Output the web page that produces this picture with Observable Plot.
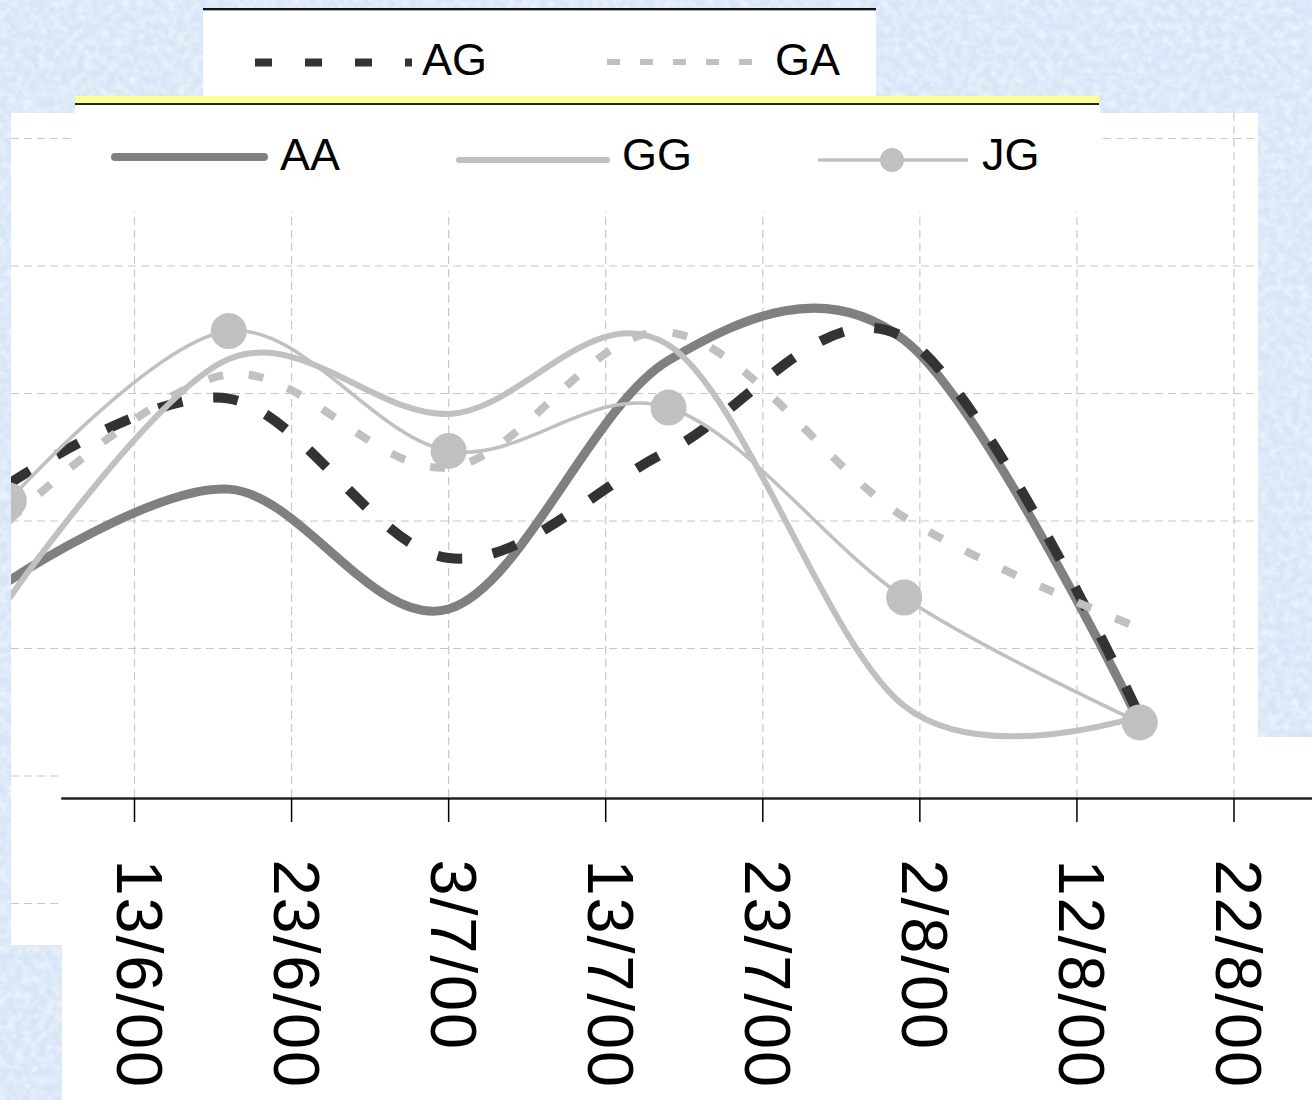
<!DOCTYPE html>
<html>
<head>
<meta charset="utf-8">
<script src="https://cdn.jsdelivr.net/npm/d3@7"></script>
<script src="https://cdn.jsdelivr.net/npm/@observablehq/plot@0.6"></script>
<style>
  html, body { margin: 0; padding: 0; }
  body { width: 1312px; height: 1100px; position: relative; overflow: hidden; }
  .bg { background-color: #d6e5f7; }
  .abs { position: absolute; }
  .white { background: #ffffff; }
  #chart { position: absolute; left: 0; top: 0; z-index: 1; color: #000; }
  .over { z-index: 2; }
  #legendSvg { position: absolute; left: 0; top: 0; z-index: 3; pointer-events: none; }
</style>
</head>
<body class="bg">
<!-- white chart panels -->
<div class="abs white" style="left:11px;top:113px;width:1247px;height:624px"></div>
<div class="abs white" style="left:11px;top:113px;width:51px;height:832px"></div>
<div class="abs white" style="left:62px;top:737px;width:1250px;height:363px"></div>
<div id="chart"></div>
<!-- overlays -->
<div class="abs over bg" id="leftMask" style="left:0;top:0;width:11px;height:1100px"></div>
<div class="abs over white" style="left:203px;top:8px;width:673px;height:88px;border-top:2px solid #111;box-sizing:border-box;box-shadow: inset 0 1px 0 #b0b0b0"></div>
<div class="abs over" style="left:75px;top:96px;width:1024px;height:7px;background:#ffff99"></div>
<div class="abs over" style="left:75px;top:103px;width:1024px;height:2px;background:#222"></div>
<div class="abs over white" style="left:75px;top:105px;width:1025px;height:106px"></div>
<svg id="legendSvg" width="1312" height="1100"></svg>

<script>
// ---------------- data ----------------
const dateStrings = ["2000-06-05", "2000-06-19", "2000-07-03", "2000-07-17", "2000-08-01", "2000-08-16"];
const AA = [25.3, 32.5, 23.1, 42.6, 44.2, 14.2];
const AG = [32.9, 39.6, 27.1, 35.5, 44.4, 14.7];
const GA = [30.0, 41.5, 34.2, 44.8, 30.3, 21.6];
const GG = [23.9, 42.7, 38.4, 43.8, 15.5, 14.7];
const JG = [31.6, 44.9, 35.5, 38.9, 24.0, 14.2];

const tickDateStrings = ["2000-06-13", "2000-06-23", "2000-07-03", "2000-07-13", "2000-07-23", "2000-08-02", "2000-08-12", "2000-08-22"];
const tickLabels = ["13/6/00", "23/6/00", "3/7/00", "13/7/00", "23/7/00", "2/8/00", "12/8/00", "22/8/00"];
const gridUpper = [20, 30, 40, 50, 60];
const gridLower = [0, 10];

// ---------------- background texture ----------------
const noise = `<svg xmlns='http://www.w3.org/2000/svg' width='1312' height='1100'><filter id='n' x='0' y='0' width='100%' height='100%'><feTurbulence type='fractalNoise' baseFrequency='0.13' numOctaves='3' seed='7'/><feColorMatrix type='matrix' values='0 0 0 0 1  0 0 0 0 1  0 0 0 0 1  1.1 0 0 0 -0.38'/></filter><filter id='m' x='0' y='0' width='100%' height='100%'><feTurbulence type='fractalNoise' baseFrequency='0.05' numOctaves='2' seed='19'/><feColorMatrix type='matrix' values='0 0 0 0 0.72  0 0 0 0 0.82  0 0 0 0 0.95  0.9 0 0 0 -0.42'/></filter><rect width='1312' height='1100' filter='url(#m)'/><rect width='1312' height='1100' filter='url(#n)'/></svg>`;
const noiseUrl = `url("data:image/svg+xml,${encodeURIComponent(noise)}")`;
document.querySelectorAll(".bg").forEach(el => { el.style.backgroundImage = noiseUrl; el.style.backgroundPosition = "0 0"; });

// ---------------- build table ----------------
const parse = s => new Date(s + "T00:00:00Z");
const dates = dateStrings.map(parse);
const tickDates = tickDateStrings.map(parse);
const labelMap = new Map(tickDates.map((d, i) => [+d, tickLabels[i]]));
const seriesList = [
  {name: "AA", values: AA},
  {name: "AG", values: AG},
  {name: "GA", values: GA},
  {name: "GG", values: GG},
  {name: "JG", values: JG}
];
const rows = {};
for (const s of seriesList) rows[s.name] = dates.map((d, i) => ({date: d, value: s.values[i], series: s.name}));

const xDomain = [parse("2000-06-13"), parse("2000-08-22")];
const xRange = [134, 1233.5];
const xs = d3.scaleUtc().domain(xDomain).range(xRange);
const xPanelL = xs.invert(11), xPanelR = xs.invert(1258), xStripR = xs.invert(62);

const font = "'Liberation Sans', Arial, Helvetica, sans-serif";
const gridStyle = {stroke: "#c8c8c8", strokeOpacity: 1, strokeWidth: 1.2, strokeDasharray: "8,5"};

const chart = Plot.plot({
  width: 1312,
  height: 1100,
  marginLeft: 62,
  marginRight: 0,
  marginTop: 113,
  marginBottom: 302,
  style: {background: "transparent", overflow: "visible", fontFamily: font, color: "#000", letterSpacing: "1.8px"},
  x: {type: "utc", domain: xDomain, range: xRange, axis: null},
  y: {domain: [0, 60], range: [903, 138], axis: null},
  marks: [
    Plot.gridX(tickDates, gridStyle),
    Plot.ruleY(gridUpper, {x1: () => xPanelL, x2: () => xPanelR, ...gridStyle}),
    Plot.ruleY(gridLower, {x1: () => xPanelL, x2: () => xStripR, ...gridStyle}),
    Plot.line(rows.AA, {x: "date", y: "value", curve: "cardinal", stroke: "#808080", strokeWidth: 9, strokeLinecap: "butt"}),
    Plot.line(rows.AG, {x: "date", y: "value", curve: "cardinal", stroke: "#333333", strokeWidth: 10, strokeDasharray: "25,31", strokeLinecap: "butt", strokeLinejoin: "miter"}),
    Plot.line(rows.GA, {x: "date", y: "value", curve: "cardinal", stroke: "#c0c0c0", strokeWidth: 8, strokeDasharray: "15,26", strokeLinecap: "butt"}),
    Plot.line(rows.GG, {x: "date", y: "value", curve: "cardinal", stroke: "#c0c0c0", strokeWidth: 6}),
    Plot.line(rows.JG, {x: "date", y: "value", curve: "cardinal", stroke: "#c0c0c0", strokeWidth: 3.5}),
    Plot.dot(rows.JG, {x: "date", y: "value", r: 18, fill: "#c0c0c0", stroke: null}),
    Plot.frame({anchor: "bottom", stroke: "#222", strokeWidth: 2.5}),
    // tick marks only
    Plot.axisX(tickDates, {
      anchor: "bottom",
      tickSize: 24,
      text: null,
      stroke: "#000",
      strokeWidth: 1.5,
      label: null
    }),
    // rotated tick labels only
    Plot.axisX(tickDates, {
      anchor: "bottom",
      tickFormat: d => labelMap.get(+d),
      tickRotate: 90,
      tickSize: 0,
      tickPadding: 60,
      fontSize: 65,
      fontFamily: font,
      fill: "#000",
      dx: 3,
      dy: 1,
      label: null
    })
  ]
});
document.getElementById("chart").appendChild(chart);

// ---------------- legend (swatches + text) ----------------
const legendItems = [
  {name: "AG", color: "#333333", width: 8, dash: "17,33", x1: 255, x2: 412, y: 62.5, tx: 422, ty: 75, cap: "butt"},
  {name: "GA", color: "#c0c0c0", width: 6, dash: "13,20", x1: 607, x2: 752, y: 62, tx: 775, ty: 75, cap: "butt"},
  {name: "AA", color: "#808080", width: 8, dash: null, x1: 115, x2: 264, y: 157, tx: 280, ty: 170, cap: "round"},
  {name: "GG", color: "#c0c0c0", width: 6, dash: null, x1: 459, x2: 607, y: 160, tx: 622, ty: 170, cap: "round"},
  {name: "JG", color: "#c0c0c0", width: 3.5, dash: null, x1: 818, x2: 968, y: 160, tx: 982, ty: 170, cap: "butt", dot: 892}
];
const lg = d3.select("#legendSvg");
for (const it of legendItems) {
  const ln = lg.append("line").attr("x1", it.x1).attr("x2", it.x2).attr("y1", it.y).attr("y2", it.y)
    .attr("stroke", it.color).attr("stroke-width", it.width).attr("stroke-linecap", it.cap);
  if (it.dash) ln.attr("stroke-dasharray", it.dash);
  if (it.dot) lg.append("circle").attr("cx", it.dot).attr("cy", it.y).attr("r", 12).attr("fill", it.color);
  lg.append("text").attr("x", it.tx).attr("y", it.ty).attr("font-family", font).attr("font-size", 45)
    .attr("fill", "#000").text(it.name);
}
</script>
</body>
</html>
